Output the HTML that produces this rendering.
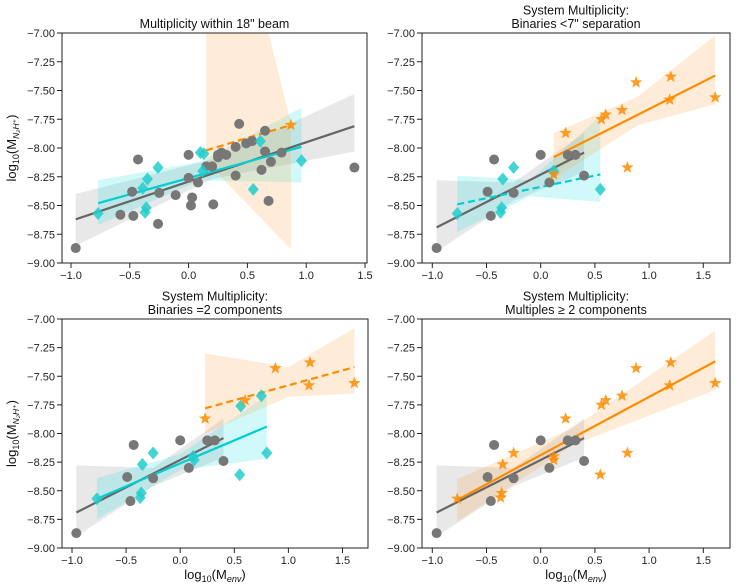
<!DOCTYPE html>
<html><head><meta charset="utf-8"><style>
body{margin:0;background:#fff}
svg{display:block;font-family:"Liberation Sans","DejaVu Sans",sans-serif}
</style></head><body>
<svg id="fig" width="739" height="585" viewBox="0 0 739 585"></svg>
<script>
// ---- data ----
const greyAllX=[-0.96,-0.58,-0.48,-0.47,-0.43,-0.26,-0.25,-0.11,0.0,0.0,0.02,0.03,0.08,0.15,0.20,0.21,0.25,0.25,0.28,0.32,0.40,0.40,0.43,0.49,0.54,0.62,0.65,0.65,0.68,0.70,0.79,1.41];
const greyAllY=[-8.87,-8.58,-8.38,-8.59,-8.10,-8.66,-8.39,-8.41,-8.06,-8.26,-8.50,-8.43,-8.30,-8.16,-8.16,-8.49,-8.08,-8.06,-8.04,-8.06,-7.99,-8.24,-7.79,-7.96,-7.94,-8.19,-7.85,-8.03,-8.46,-8.12,-8.04,-8.17];
const cyan1X=[-0.77,-0.39,-0.37,-0.36,-0.35,-0.26,0.10,0.13,0.12,0.55,0.61,0.96];
const cyan1Y=[-8.57,-8.35,-8.56,-8.52,-8.27,-8.17,-8.04,-8.05,-8.20,-8.36,-7.94,-8.11];
const orange1X=[0.87];
const orange1Y=[-7.80];
const greySysX=[-0.96,-0.49,-0.46,-0.43,-0.25,0.0,0.08,0.25,0.32,0.40];
const greySysY=[-8.87,-8.38,-8.59,-8.10,-8.39,-8.06,-8.30,-8.06,-8.06,-8.24];
const cyan2X=[-0.77,-0.37,-0.36,-0.35,-0.25,0.12,0.55];
const cyan2Y=[-8.57,-8.56,-8.52,-8.27,-8.17,-8.20,-8.36];
const orange2X=[0.12,0.23,0.56,0.60,0.75,0.88,0.80,1.20,1.19,1.61];
const orange2Y=[-8.23,-7.87,-7.75,-7.71,-7.67,-7.43,-8.17,-7.38,-7.58,-7.56];
const cyan3X=[-0.77,-0.37,-0.36,-0.35,-0.25,0.12,0.13,0.55,0.56,0.75,0.80];
const cyan3Y=[-8.57,-8.56,-8.52,-8.27,-8.17,-8.20,-8.23,-8.36,-7.76,-7.67,-8.17];
const orange3X=[0.23,0.60,0.88,1.20,1.19,1.61];
const orange3Y=[-7.87,-7.71,-7.43,-7.38,-7.58,-7.56];
const orange4X=[-0.77,-0.37,-0.36,-0.35,-0.25,0.12,0.12,0.23,0.55,0.56,0.60,0.75,0.80,0.88,1.20,1.19,1.61];
const orange4Y=[-8.57,-8.56,-8.52,-8.27,-8.17,-8.20,-8.23,-7.87,-8.36,-7.75,-7.71,-7.67,-8.17,-7.43,-7.38,-7.58,-7.56];
// fit lines [x0,y0,x1,y1]
const fitGrey1=[-0.96,-8.62,1.41,-7.81];
const fitCyan1=[-0.77,-8.48,0.96,-7.99];
const fitOrange1=[0.15,-8.02,0.87,-7.80];
const fitGreySys=[-0.96,-8.69,0.40,-8.04];
const fitCyan2=[-0.77,-8.49,0.55,-8.23];
const fitOrange2=[0.12,-8.08,1.61,-7.37];
const fitCyan3=[-0.77,-8.57,0.80,-7.94];
const fitOrange3=[0.23,-7.78,1.61,-7.42];
const fitOrange4=[-0.77,-8.58,1.61,-7.37];
// confidence bands: x, lower, upper
const bandGrey1X=[-0.96,0.2,1.41], bandGrey1L=[-8.85,-8.27,-8.03], bandGrey1U=[-8.40,-8.10,-7.53];
const bandCyan1X=[-0.77,0.1,0.96], bandCyan1L=[-8.67,-8.28,-8.30], bandCyan1U=[-8.28,-8.12,-7.65];
const bandOrange1X=[0.15,0.87], bandOrange1L=[-8.12,-8.88], bandOrange1U=[-4.83,-7.78];
const bandGreySysX=[-0.96,-0.25,0.40], bandGreySysL=[-8.90,-8.46,-8.21], bandGreySysU=[-8.28,-8.30,-7.87];
const bandCyan2X=[-0.77,-0.1,0.55], bandCyan2L=[-8.73,-8.42,-8.47], bandCyan2U=[-8.24,-8.28,-7.72];
const bandOrange2X=[0.12,0.9,1.61], bandOrange2L=[-8.27,-7.80,-7.62], bandOrange2U=[-7.87,-7.55,-7.02];
const bandCyan3X=[-0.77,0.0,0.80], bandCyan3L=[-8.75,-8.32,-8.22], bandCyan3U=[-8.39,-8.18,-7.67];
const bandOrange3X=[0.23,1.0,1.61], bandOrange3L=[-8.0,-7.68,-7.65], bandOrange3U=[-7.30,-7.42,-7.08];
const bandOrange4X=[-0.77,0.3,1.61], bandOrange4L=[-8.77,-8.10,-7.62], bandOrange4U=[-8.40,-7.95,-7.10];
const xTicks=[-1.0,-0.5,0.0,0.5,1.0,1.5];
const xTickLabels=["−1.0","−0.5","0.0","0.5","1.0","1.5"];
const yTicks=[-7.0,-7.25,-7.5,-7.75,-8.0,-8.25,-8.5,-8.75,-9.0];
const yTickLabels=["−7.00","−7.25","−7.50","−7.75","−8.00","−8.25","−8.50","−8.75","−9.00"];

const NS="http://www.w3.org/2000/svg";
const svg=document.getElementById('fig');
function mk(tag,attrs,parent){const e=document.createElementNS(NS,tag);for(const k in attrs)e.setAttribute(k,attrs[k]);(parent||svg).appendChild(e);return e;}
const GREY="#777777",CYAN="#00CED1",ORANGE="#FF8C00";
const BGREY="rgba(150,150,150,0.22)",BCYAN="rgba(0,220,220,0.18)",BORANGE="rgba(255,160,60,0.2)";

function panel(id,box,xa,titles,showXLabel,showYLabel,layers){
  const [L,T,R,B]=box;
  const sx=v=>xa[0]+(v+1)*xa[1];
  const sy=v=>T+(-7-v)*(B-T)/2;
  const g=mk('g',{});
  
  
  const cp=mk('clipPath',{id:'c'+id},g);mk('rect',{x:L,y:T,width:R-L,height:B-T},cp);
  const plot=mk('g',{'clip-path':'url(#c'+id+')'},g);
  layers.bands.forEach(bd=>{
    const [bx,bl,bu,col,name]=bd;
    let pts=bx.map((x,i)=>sx(x)+','+sy(bu[i]));
    pts=pts.concat(bx.map((x,i)=>sx(x)+','+sy(bl[i])).reverse());
    const p=mk('polygon',{points:pts.join(' '),fill:col},plot);
    
    
  });
  layers.lines.forEach(ln=>{
    const [f,col,dash,name]=ln;
    const l=mk('line',{x1:sx(f[0]),y1:sy(f[1]),x2:sx(f[2]),y2:sy(f[3]),stroke:col,'stroke-width':2.2,'stroke-dasharray':dash?'7,4':'none'},plot);
    
    
  });
  layers.points.forEach(ps=>{
    const [xs,ys,shape,col,name]=ps;
    xs.forEach((x,i)=>{
      const cx=sx(x),cy=sy(ys[i]);let e;
      if(shape==='o')e=mk('circle',{cx:cx,cy:cy,r:5,fill:col},plot);
      else if(shape==='d')e=mk('polygon',{points:`${cx},${cy-6.5} ${cx+5.5},${cy} ${cx},${cy+6.5} ${cx-5.5},${cy}`,fill:col,opacity:0.85},plot);
      else{let p=[];for(let k=0;k<10;k++){const r=k%2?2.7:6.5,a=-Math.PI/2+k*Math.PI/5;p.push((cx+r*Math.cos(a)).toFixed(1)+','+(cy+r*Math.sin(a)).toFixed(1));}
        e=mk('polygon',{points:p.join(' '),fill:col,opacity:0.85},plot);}
      
      
    });
  });
  const fr=mk('rect',{x:L,y:T,width:R-L,height:B-T,fill:'none',stroke:'#222','stroke-width':1},g);
  
  
  xTicks.forEach((v,i)=>{const x=sx(v);mk('line',{x1:x,y1:B,x2:x,y2:B+5,stroke:'#222'},g);
    const t=mk('text',{x:x,y:B+16,'font-size':11,'text-anchor':'middle',fill:'#222'},g);t.textContent=xTickLabels[i];
    
    });
  yTicks.forEach((v,i)=>{const y=sy(v);mk('line',{x1:L-5,y1:y,x2:L,y2:y,stroke:'#222'},g);
    const t=mk('text',{x:L-7,y:y+4,'font-size':11,'text-anchor':'end',fill:'#222'},g);t.textContent=yTickLabels[i];
    
    });
  const cxm=(L+R)/2;
  titles.forEach((s,i)=>{const t=mk('text',{x:cxm,y:T-5-(titles.length-1-i)*13.5,'font-size':12.5,'text-anchor':'middle',fill:'#111'},g);t.textContent=s;
    
    });
  if(showXLabel){const t=mk('text',{x:cxm,y:B+31,'font-size':13,'text-anchor':'middle',fill:'#111'},g);
    t.innerHTML='log<tspan font-size="9" dy="3">10</tspan><tspan dy="-3">(M</tspan><tspan font-size="9" font-style="italic" dy="3">env</tspan><tspan dy="-3">)</tspan>';
    
    }
  if(showYLabel){const yc=(T+B)/2;const t=mk('text',{x:0,y:0,'font-size':13,'text-anchor':'middle',fill:'#111',transform:`translate(16,${yc}) rotate(-90)`},g);
    t.innerHTML='log<tspan font-size="9" dy="3">10</tspan><tspan dy="-3">(M</tspan><tspan font-size="8.5" font-style="italic" dy="3">N₂H⁺</tspan><tspan dy="-3">)</tspan>';
    
    }
}
panel('panel-18-beam',[62,33,367,263],[71,117.6],['Multiplicity within 18" beam'],false,true,{
  bands:[[bandGrey1X,bandGrey1L,bandGrey1U,BGREY,'band-grey'],[bandCyan1X,bandCyan1L,bandCyan1U,BCYAN,'band-cyan'],[bandOrange1X,bandOrange1L,bandOrange1U,BORANGE,'band-orange']],
  points:[[greyAllX,greyAllY,'o',GREY,'point-single'],[cyan1X,cyan1Y,'d','#22CCCC','point-binary'],[orange1X,orange1Y,'s',ORANGE,'point-multiple']],
  lines:[[fitGrey1,'#666',false,'fit-grey'],[fitCyan1,CYAN,false,'fit-cyan'],[fitOrange1,ORANGE,true,'fit-orange']]});
panel('panel-binaries-7',[422,33,730,263],[432.3,108.4],['System Multiplicity:','Binaries <7" separation'],false,false,{
  bands:[[bandGreySysX,bandGreySysL,bandGreySysU,BGREY,'band-grey'],[bandCyan2X,bandCyan2L,bandCyan2U,BCYAN,'band-cyan'],[bandOrange2X,bandOrange2L,bandOrange2U,BORANGE,'band-orange']],
  points:[[greySysX,greySysY,'o',GREY,'point-single'],[cyan2X,cyan2Y,'d','#22CCCC','point-binary'],[orange2X,orange2Y,'s',ORANGE,'point-multiple']],
  lines:[[fitGreySys,'#666',false,'fit-grey'],[fitCyan2,CYAN,true,'fit-cyan'],[fitOrange2,ORANGE,false,'fit-orange']]});
panel('panel-binaries-2',[62,319,368,548],[72,108.2],['System Multiplicity:','Binaries =2 components'],true,true,{
  bands:[[bandGreySysX,bandGreySysL,bandGreySysU,BGREY,'band-grey'],[bandCyan3X,bandCyan3L,bandCyan3U,BCYAN,'band-cyan'],[bandOrange3X,bandOrange3L,bandOrange3U,BORANGE,'band-orange']],
  points:[[greySysX,greySysY,'o',GREY,'point-single'],[cyan3X,cyan3Y,'d','#22CCCC','point-binary'],[orange3X,orange3Y,'s',ORANGE,'point-multiple']],
  lines:[[fitGreySys,'#666',false,'fit-grey'],[fitCyan3,CYAN,false,'fit-cyan'],[fitOrange3,ORANGE,true,'fit-orange']]});
panel('panel-multiples',[422,319,730,548],[432.3,108.4],['System Multiplicity:','Multiples  ≥ 2 components'],true,false,{
  bands:[[bandGreySysX,bandGreySysL,bandGreySysU,BGREY,'band-grey'],[bandOrange4X,bandOrange4L,bandOrange4U,BORANGE,'band-orange']],
  points:[[greySysX,greySysY,'o',GREY,'point-single'],[orange4X,orange4Y,'s',ORANGE,'point-multiple']],
  lines:[[fitGreySys,'#666',false,'fit-grey'],[fitOrange4,ORANGE,false,'fit-orange']]});
</script>
</body></html>
